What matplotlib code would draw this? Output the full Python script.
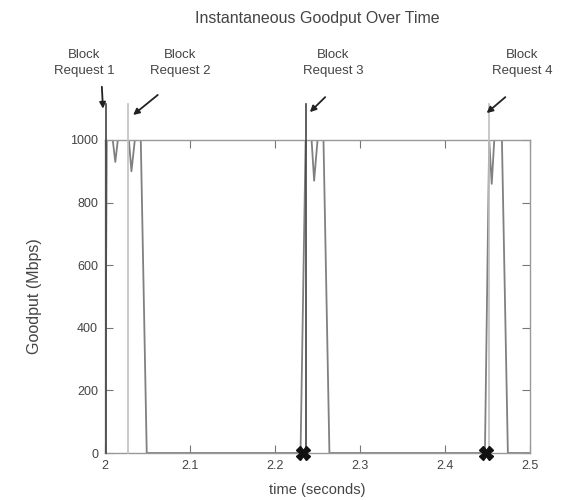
import matplotlib
matplotlib.use('Agg')
import matplotlib.pyplot as plt

# Goodput trace (seconds, Mbps)
time_s = [2.000, 2.002, 2.009, 2.012, 2.015, 2.028, 2.031, 2.035, 2.042, 2.049,
          2.230, 2.236, 2.243, 2.246, 2.250, 2.257, 2.264,
          2.447, 2.452, 2.455, 2.458, 2.467, 2.474, 2.500]
goodput = [0, 1000, 1000, 930, 1000, 1000, 900, 1000, 1000, 0,
           0, 1000, 1000, 870, 1000, 1000, 0,
           0, 1000, 860, 1000, 1000, 0, 0]

# Block requests
request_times = [2.001, 2.027, 2.236, 2.452]
request_labels = ['Block\nRequest 1', 'Block\nRequest 2', 'Block\nRequest 3', 'Block\nRequest 4']
label_x = [1.975, 2.088, 2.268, 2.491]
marker_times = [2.233, 2.448]

x_ticks = [2.0, 2.1, 2.2, 2.3, 2.4, 2.5]
x_tick_labels = ['2', '2.1', '2.2', '2.3', '2.4', '2.5']
y_ticks = [0, 200, 400, 600, 800, 1000]

plt.rcParams['font.family'] = ['Liberation Sans', 'DejaVu Sans']

fig = plt.figure(figsize=(5.62, 5.0), dpi=100)
ax = fig.add_axes([0.187, 0.094, 0.756, 0.626])

ax.plot(time_s, goodput, color='#808080', lw=1.3, zorder=2)

req_colors = ['#444444', '#c0c0c0', '#444444', '#c0c0c0']
for t, c in zip(request_times, req_colors):
    ax.plot([t, t], [0, 1115], color=c, lw=1.2, clip_on=False, zorder=3)

ax.plot(marker_times, [0] * len(marker_times), linestyle='none', marker='X',
        markersize=10, color='#111111', clip_on=False, zorder=5)

arrows = [((1.9962, 1170), (1.9975, 1100)),
          ((2.062, 1144), (2.033, 1080)),
          ((2.259, 1137), (2.241, 1089)),
          ((2.471, 1137), (2.449, 1086))]
for lbl, lx, (tail, head) in zip(request_labels, label_x, arrows):
    ax.text(lx, 1246, lbl, ha='center', va='center', fontsize=9.5,
            color='#444444', clip_on=False, linespacing=1.35)
    ax.annotate('', xy=head, xytext=tail, annotation_clip=False,
                arrowprops=dict(arrowstyle='-|>', color='#222222', lw=1.3,
                                mutation_scale=9, shrinkA=0, shrinkB=0))

ax.set_xlim(2.0, 2.5)
ax.set_ylim(0, 1000)
ax.set_xticks(x_ticks)
ax.set_xticklabels(x_tick_labels)
ax.set_yticks(y_ticks)
ax.tick_params(direction='in', length=6, top=True, right=True, pad=5,
               labelsize=9, color='#777777', labelcolor='#444444')
for s in ax.spines.values():
    s.set_color('#999999')
    s.set_linewidth(1.0)

ax.set_xlabel('time (seconds)', fontsize=10.5, color='#444444', labelpad=8)
ax.set_ylabel('Goodput (Mbps)', fontsize=11.5, color='#444444', labelpad=20)
fig.text(0.564, 0.963, 'Instantaneous Goodput Over Time', fontsize=11.5,
         color='#444444', ha='center', va='center')

fig.savefig('out.png', dpi=100)
